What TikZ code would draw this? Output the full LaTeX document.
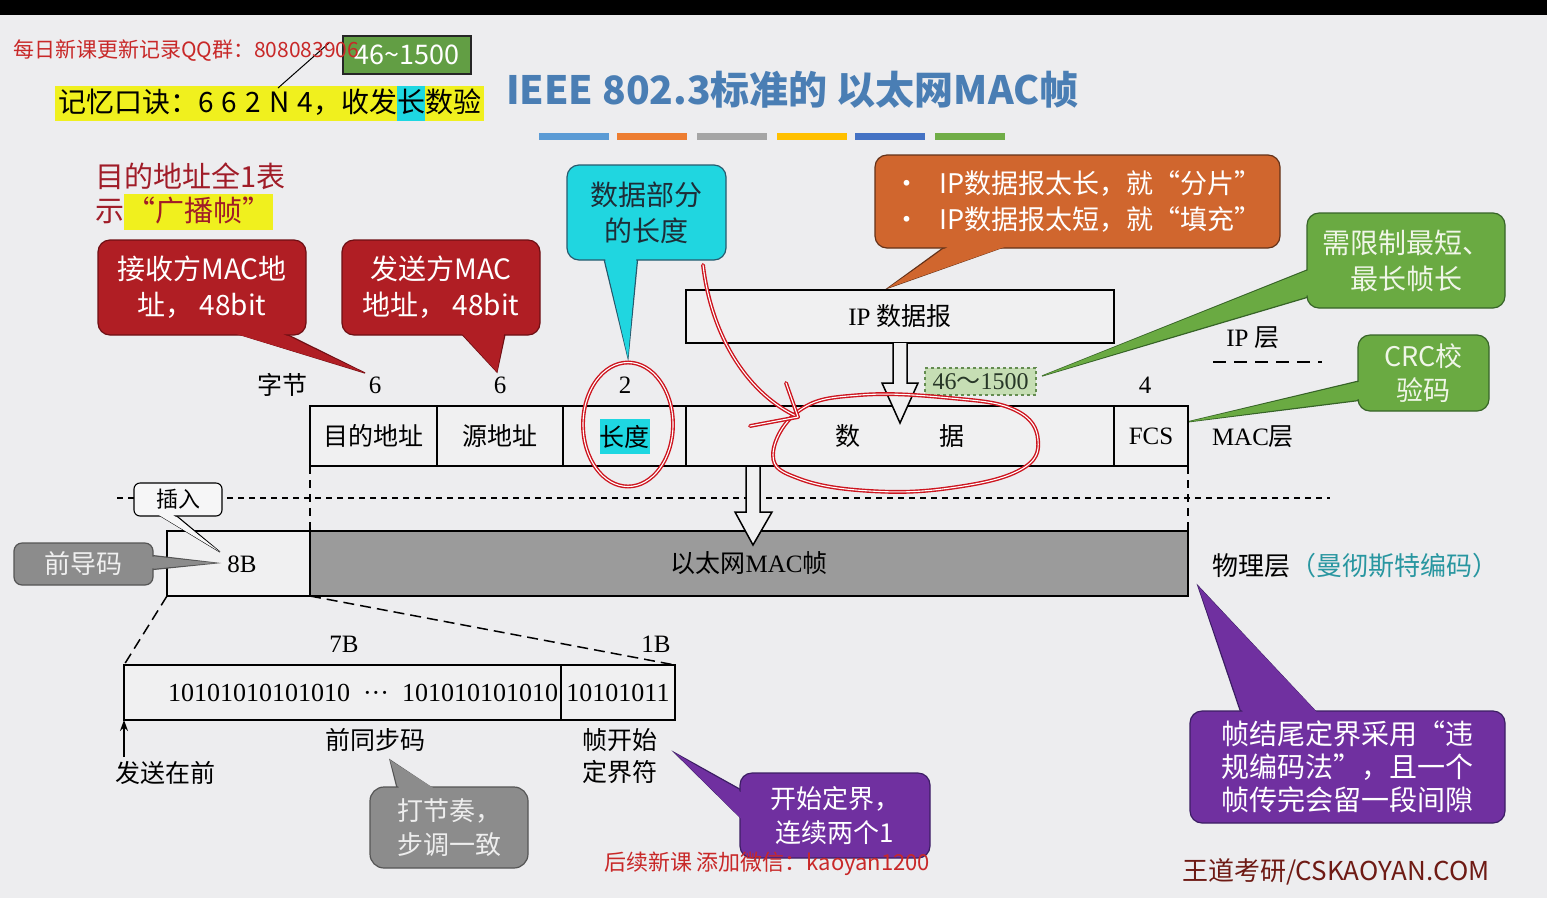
\documentclass[tikz,border=0pt]{standalone}
\usepackage{fontspec}
\setmainfont{Liberation Serif}
\newfontfamily\cjk{Noto Sans CJK SC}
\usetikzlibrary{calc,arrows.meta}

\definecolor{pagebg}{RGB}{237,237,239}
\definecolor{wmred}{RGB}{200,40,40}
\definecolor{hlyellow}{RGB}{240,240,30}
\definecolor{hlcyan}{RGB}{30,215,225}
\definecolor{rangegreen}{RGB}{98,158,68}
\definecolor{titleblue}{RGB}{74,126,180}
\definecolor{barA}{RGB}{91,155,213}
\definecolor{barB}{RGB}{237,125,49}
\definecolor{barC}{RGB}{165,165,165}
\definecolor{barD}{RGB}{255,192,0}
\definecolor{barE}{RGB}{68,114,196}
\definecolor{barF}{RGB}{112,173,71}
\definecolor{noteRed}{RGB}{160,28,40}
\definecolor{boxRed}{RGB}{176,30,36}
\definecolor{boxRedDk}{RGB}{110,15,20}
\definecolor{boxCyan}{RGB}{32,214,224}
\definecolor{boxCyanDk}{RGB}{40,90,110}
\definecolor{boxOrange}{RGB}{208,102,46}
\definecolor{boxOrangeDk}{RGB}{100,50,25}
\definecolor{boxGreen}{RGB}{106,170,66}
\definecolor{boxGreenDk}{RGB}{55,100,40}
\definecolor{boxPurple}{RGB}{112,48,160}
\definecolor{boxPurpleDk}{RGB}{60,30,100}
\definecolor{boxGray}{RGB}{140,140,140}
\definecolor{boxGrayDk}{RGB}{85,85,85}
\definecolor{frameGray}{RGB}{155,155,155}
\definecolor{cellFill}{RGB}{240,240,241}
\definecolor{lenGreen}{RGB}{198,222,180}
\definecolor{lenGreenDk}{RGB}{100,140,80}
\definecolor{codeTeal}{RGB}{40,150,160}
\definecolor{inkRed}{RGB}{205,20,30}
\definecolor{brandRed}{RGB}{110,26,20}

\tikzset{
  every node/.style={inner sep=0pt, outer sep=0pt},
  callbox/.style={rounded corners=12pt, line width=1.2pt, align=center, text=white,
                  font=\cjk\fontsize{28}{36}\selectfont},
  ptr/.style={line width=1.2pt, line join=miter},
  lbl/.style={font=\fontsize{25}{30}\selectfont},
  cell/.style={draw, line width=2.5pt, fill=cellFill, minimum height=60pt,
               font=\fontsize{25}{30}\selectfont},
  hollow/.style={draw, line width=1.5pt, fill=cellFill, line join=miter},
  ink/.style={draw=inkRed, double=white, double distance=1.1pt, line width=1.4pt,
              line cap=round, line join=round},
}

\begin{document}
\begin{tikzpicture}[x=1pt,y=-1pt]
\useasboundingbox (0,0) rectangle (1547,898);
\fill[pagebg] (0,0) rectangle (1547,898);
\fill[black] (0,0) rectangle (1547,15);

% ---------- header notes ----------
\node[fill=hlyellow, anchor=west, inner xsep=3pt, font=\cjk\fontsize{28}{32}\selectfont] (mnem) at (55,103)
  {\rule[-8pt]{0pt}{35pt}记忆口诀：6\hspace{2pt} 6\hspace{2pt} 2\hspace{2pt} N\hspace{2pt} 4，收发{\setlength\fboxsep{0pt}\colorbox{hlcyan}{\rule[-8pt]{0pt}{35pt}长}}数验};
\coordinate (tickA) at (278,88);
\coordinate (tickB) at (329,43);
\draw[line width=1pt] (tickA) -- (tickB);
\node[draw=black!85, line width=1.5pt, fill=rangegreen, text=white, minimum width=128pt,
      minimum height=38pt, font=\cjk\fontsize{27}{30}\selectfont] (rng) at (407,55) {46{\char"7E}1500};
\node[anchor=west, text=wmred, font=\cjk\fontsize{21}{25}\selectfont] (qq) at (13,51)
  {每日新课更新记录QQ群：808083906};

% ---------- title ----------
\node[anchor=west, text=titleblue, font=\cjk\bfseries\fontsize{39}{44}\selectfont] (title) at (506,90)
  {IEEE 802.3标准的 以太网MAC帧};
\fill[barA] (539,133) rectangle (609,140);
\fill[barB] (617,133) rectangle (687,140);
\fill[barC] (697,133) rectangle (767,140);
\fill[barD] (777,133) rectangle (847,140);
\fill[barE] (855,133) rectangle (925,140);
\fill[barF] (935,133) rectangle (1005,140);

% ---------- broadcast note ----------
\node[anchor=west, text=noteRed, font=\cjk\fontsize{29}{32}\selectfont] (bc1) at (95,176) {目的地址全1表};
\node[anchor=west, text=noteRed, font=\cjk\fontsize{29}{32}\selectfont] (bc2) at (95,212)
  {示{\setlength\fboxsep{0pt}\colorbox{hlyellow}{\rule[-9pt]{0pt}{36pt}\hspace{2pt}“广播帧”\hspace{2pt}}}};

% ---------- red callouts ----------
\coordinate (rc1tip) at (365,373);
\filldraw[ptr, fill=boxRed, draw=boxRedDk] (225,330) -- (rc1tip) -- (278,330);
\node[callbox, fill=boxRed, draw=boxRedDk, minimum width=208pt, minimum height=95pt] (rc1) at (202,287.5)
  {接收方MAC地\\址， 48bit};
\fill[boxRed] (226.5,331) -- (rc1tip) -- (276.5,331) -- cycle;

\coordinate (rc2tip) at (497,372);
\filldraw[ptr, fill=boxRed, draw=boxRedDk] (458,330) -- (rc2tip) -- (506,330);
\node[callbox, fill=boxRed, draw=boxRedDk, minimum width=198pt, minimum height=95pt] (rc2) at (441,287.5)
  {发送方MAC\\地址， 48bit};
\fill[boxRed] (459.5,331) -- (rc2tip) -- (504.5,331) -- cycle;

% ---------- cyan callout ----------
\coordinate (cytip) at (628,358);
\filldraw[ptr, fill=boxCyan, draw=boxCyanDk] (603,255) -- (cytip) -- (638,255);
\node[callbox, fill=boxCyan, draw=boxCyanDk, text={rgb,255:red,30;green,45;blue,55}, minimum width=159pt,
      minimum height=95pt] (cy) at (646.5,212.5) {数据部分\\的长度};
\fill[boxCyan] (604.5,256) -- (cytip) -- (636.5,256) -- cycle;

% ---------- orange callout ----------
\coordinate (ortip) at (888,288);
\filldraw[ptr, fill=boxOrange, draw=boxOrangeDk] (950,243) -- (ortip) -- (1015,243);
\node[callbox, fill=boxOrange, draw=boxOrangeDk, minimum width=405pt, minimum height=93pt, align=left,
      font=\cjk\fontsize{27}{36}\selectfont] (or) at (1077.5,201.5)
  {•\hspace{20pt}IP数据报太长，就“分片”\\•\hspace{20pt}IP数据报太短，就“填充”};
\fill[boxOrange] (952,244) -- (ortip) -- (1013,244) -- cycle;

% ---------- green callouts ----------
\coordinate (gr1tip) at (1042,376);
\filldraw[ptr, fill=boxGreen, draw=boxGreenDk] (1312,268) -- (gr1tip) -- (1312,296);
\node[callbox, fill=boxGreen, draw=boxGreenDk, text={rgb,255:red,240;green,246;blue,232}, minimum width=198pt,
      minimum height=95pt] (gr1) at (1406,260.5) {需限制最短、\\最长帧长};
\fill[boxGreen] (1310,269.5) -- (gr1tip) -- (1310,294.5) -- cycle;

\coordinate (gr2tip) at (1187,422);
\filldraw[ptr, fill=boxGreen, draw=boxGreenDk] (1363,380) -- (gr2tip) -- (1363,400);
\node[callbox, fill=boxGreen, draw=boxGreenDk, text={rgb,255:red,240;green,246;blue,232}, minimum width=131pt,
      minimum height=76pt, font=\cjk\fontsize{27}{34}\selectfont] (gr2) at (1423.5,373) {CRC校\\验码};
\fill[boxGreen] (1361,381.5) -- (gr2tip) -- (1361,398.5) -- cycle;

% ---------- IP layer ----------
\node[draw, line width=2.5pt, fill=cellFill, minimum width=428pt, minimum height=53pt,
      font=\fontsize{25}{30}\selectfont] (ip) at (900,316.5) {IP {\cjk 数据报}};
\node[lbl] (iplayer) at (1253,338) {IP {\cjk 层}};
\coordinate (ipdashA) at (1213,362);
\coordinate (ipdashB) at (1322,362);
\draw[line width=1.8pt, dash pattern=on 13pt off 8pt] (ipdashA) -- (ipdashB);

% byte counts
\node[lbl] (bytes) at (282,385) {\cjk 字节};
\node[lbl] (n6a) at (375,385) {6};
\node[lbl] (n6b) at (500,385) {6};
\node[lbl] (n2) at (625,385) {2};
\node[lbl] (n4) at (1145,385) {4};
\node[draw=lenGreenDk, dashed, line width=1.1pt, fill=lenGreen, minimum width=111pt, minimum height=27pt,
      text={rgb,255:red,40;green,55;blue,40}, font=\fontsize{24}{28}\selectfont] (rangebox) at (980.5,381.5)
  {46{\cjk ～}1500};

% ---------- MAC frame ----------
\node[cell, minimum width=127pt, anchor=north west] (da) at (310,406) {\cjk 目的地址};
\node[cell, minimum width=126pt, anchor=north west] (sa) at (437,406) {\cjk 源地址};
\node[cell, minimum width=123pt, anchor=north west] (len) at (563,406)
  {{\setlength\fboxsep{0pt}\colorbox{hlcyan}{\rule[-7pt]{0pt}{35pt}\cjk 长度}}};
\node[cell, minimum width=428pt, anchor=north west] (data) at (686,406) {\cjk 数\hspace{79pt}据};
\node[cell, minimum width=74pt, anchor=north west] (fcs) at (1114,406) {FCS};
\node[lbl, anchor=west] (maclayer) at (1212,437) {MAC{\cjk 层}};

% IP datagram goes down into the data field
\draw[hollow] ($(ip.south)+(-7,0)$) -- ++(0,40) -- ++(-11,0) -- ($(ip.south)+(0,80)$)
  -- ($(ip.south)+(18,40)$) -- ++(-11,0) -- ($(ip.south)+(7,0)$);

% ---------- layer boundary ----------
\coordinate (sepL) at (117,498);
\coordinate (sepR) at (1330,498);
\draw[line width=2pt, dash pattern=on 6pt off 5pt] (sepL) -- (sepR);
\draw[line width=1.2pt, dash pattern=on 8pt off 6pt] (da.south west) -- (310,531);
\draw[line width=1.2pt, dash pattern=on 8pt off 6pt] (fcs.south east) -- (1188,531);

% ---------- physical layer ----------
\node[draw, line width=2.5pt, fill=cellFill, minimum width=143pt, minimum height=65pt, anchor=north west,
      font=\fontsize{25}{30}\selectfont] (pre) at (167,531) {};
\node[lbl] (eightB) at (242,564) {8B};
\node[draw, line width=2.5pt, fill=frameGray, minimum width=878pt, minimum height=65pt, anchor=north west,
      font=\fontsize{25}{30}\selectfont] (macf) at (310,531) {{\cjk 以太网}MAC{\cjk 帧}};
\node[anchor=west, font=\cjk\fontsize{26}{30}\selectfont] (phys) at (1212,566)
  {物理层\textcolor{codeTeal}{（曼彻斯特编码）}};

% MAC frame handed down to the physical layer
\coordinate (macmid) at ($(da.south west)!0.5!(fcs.south east)+(4,0)$);
\draw[hollow] ($(macmid)+(-7,1)$) -- ++(0,45) -- ++(-11,0) -- ($(macmid)+(0,79)$)
  -- ($(macmid)+(19,46)$) -- ++(-12,0) -- ($(macmid)+(7,1)$);

% insert callout
\coordinate (instip) at (220,552);
\filldraw[ptr, line width=1.1pt, fill=cellFill!60!white, draw=black] (154,512) -- (instip) -- (172,512);
\node[draw, line width=1.1pt, fill=cellFill!60!white, rounded corners=6pt, minimum width=88pt,
      minimum height=33pt, font=\cjk\fontsize{22}{26}\selectfont] (ins) at (178,499.5) {插入};
\fill[cellFill!60!white] (155.5,513) -- (instip) -- (170.5,513) -- cycle;

% preamble callout
\coordinate (pretip) at (216,563);
\filldraw[ptr, fill=boxGray, draw=boxGrayDk] (148,555) -- (pretip) -- (148,570);
\node[callbox, rounded corners=8pt, fill=boxGray, draw=boxGrayDk, text={rgb,255:red,240;green,240;blue,240},
      minimum width=139pt, minimum height=42pt, font=\cjk\fontsize{26}{30}\selectfont] (prec) at (83.5,564) {前导码};
\fill[boxGray] (151,556.5) -- (pretip) -- (151,568.5) -- cycle;

% ---------- preamble detail ----------
\node[draw, line width=2.5pt, fill=cellFill, minimum width=437pt, text width=431pt, align=right,
      minimum height=55pt, anchor=north west, font=\fontsize{26}{30}\selectfont] (sync) at (124,665)
  {10101010101010\hspace{13pt}···\hspace{13pt}101010101010};
\node[draw, line width=2.5pt, fill=cellFill, minimum width=114pt, minimum height=55pt, anchor=north west,
      font=\fontsize{26}{30}\selectfont] (sfd) at (561,665) {10101011};
\draw[line width=1.5pt, dash pattern=on 11pt off 6pt] (pre.south west) -- (sync.north west);
\draw[line width=1.5pt, dash pattern=on 11pt off 6pt] (pre.south east) -- (sfd.north east);
\node[lbl] (sevenB) at (344,644) {7B};
\node[lbl] (oneB) at (656,644) {1B};
\node[lbl] (syncname) at (375,740) {\cjk 前同步码};
\node[lbl, align=center, font=\cjk\fontsize{25}{32}\selectfont] (sfdname) at (620,756) {帧开始\\定界符};
\coordinate (sendtail) at (124,757);
\draw[line width=1.5pt, -{Stealth[length=11pt,width=8pt]}] (sendtail) -- (sync.south west);
\node[lbl] (sendfirst) at (165,773) {\cjk 发送在前};

% rhythm callout
\coordinate (rhtip) at (390,760);
\filldraw[ptr, fill=boxGray, draw=boxGrayDk] (398,792) -- (rhtip) -- (438,792);
\node[callbox, rounded corners=14pt, fill=boxGray, draw=boxGrayDk, align=left,
      text={rgb,255:red,238;green,238;blue,238}, minimum width=158pt, minimum height=81pt,
      font=\cjk\fontsize{26}{34}\selectfont] (rh) at (449,827.5) {打节奏，\\步调一致};
\fill[boxGray] (399.5,790) -- (rhtip) -- (436.5,790) -- cycle;

% start delimiter callout
\coordinate (sdtip) at (675,753);
\filldraw[ptr, fill=boxPurple, draw=boxPurpleDk] (745,792) -- (sdtip) -- (745,822);
\node[callbox, fill=boxPurple, draw=boxPurpleDk, minimum width=190pt, minimum height=85pt,
      font=\cjk\fontsize{26}{34}\selectfont] (sd) at (835,815.5) {开始定界，\\连续两个1};
\fill[boxPurple] (743,793.5) -- (sdtip) -- (743,820.5) -- cycle;

% end delimiter callout
\coordinate (edtip) at (1198,586);
\filldraw[ptr, fill=boxPurple, draw=boxPurpleDk] (1242,716) -- (edtip) -- (1320,716);
\node[callbox, fill=boxPurple, draw=boxPurpleDk, minimum width=315pt, minimum height=112pt,
      font=\cjk\fontsize{28}{33}\selectfont] (ed) at (1347.5,767)
  {帧结尾定界采用“违\\规编码法”，且一个\\帧传完会留一段间隙};
\fill[boxPurple] (1243.5,714) -- (edtip) -- (1318.5,714) -- cycle;

% footer notes
\node[anchor=west, text=wmred, font=\cjk\fontsize{22}{26}\selectfont] (wx) at (604,864)
  {后续新课 添加微信：kaoyan1200};
\node[anchor=west, text=brandRed, font=\cjk\fontsize{26}{30}\selectfont] (brand) at (1182,872)
  {王道考研/CSKAOYAN.COM};

% ---------- red ink marks ----------
\draw[ink] (628,424.5) ellipse [x radius=45, y radius=62];
\draw[ink] plot[smooth cycle, tension=0.7] coordinates
  {(800,410) (860,395) (950,398) (1015,410) (1038,440) (1020,470) (950,488) (870,491) (800,479) (773,455)};
\coordinate (inkA) at (703,265);
\coordinate (inkB) at (798,417);
\draw[ink] (inkA) .. controls (712,340) and (750,395) .. (inkB);
\draw[ink] (786,383) -- (inkB) -- (750,426);
\end{tikzpicture}
\end{document}
